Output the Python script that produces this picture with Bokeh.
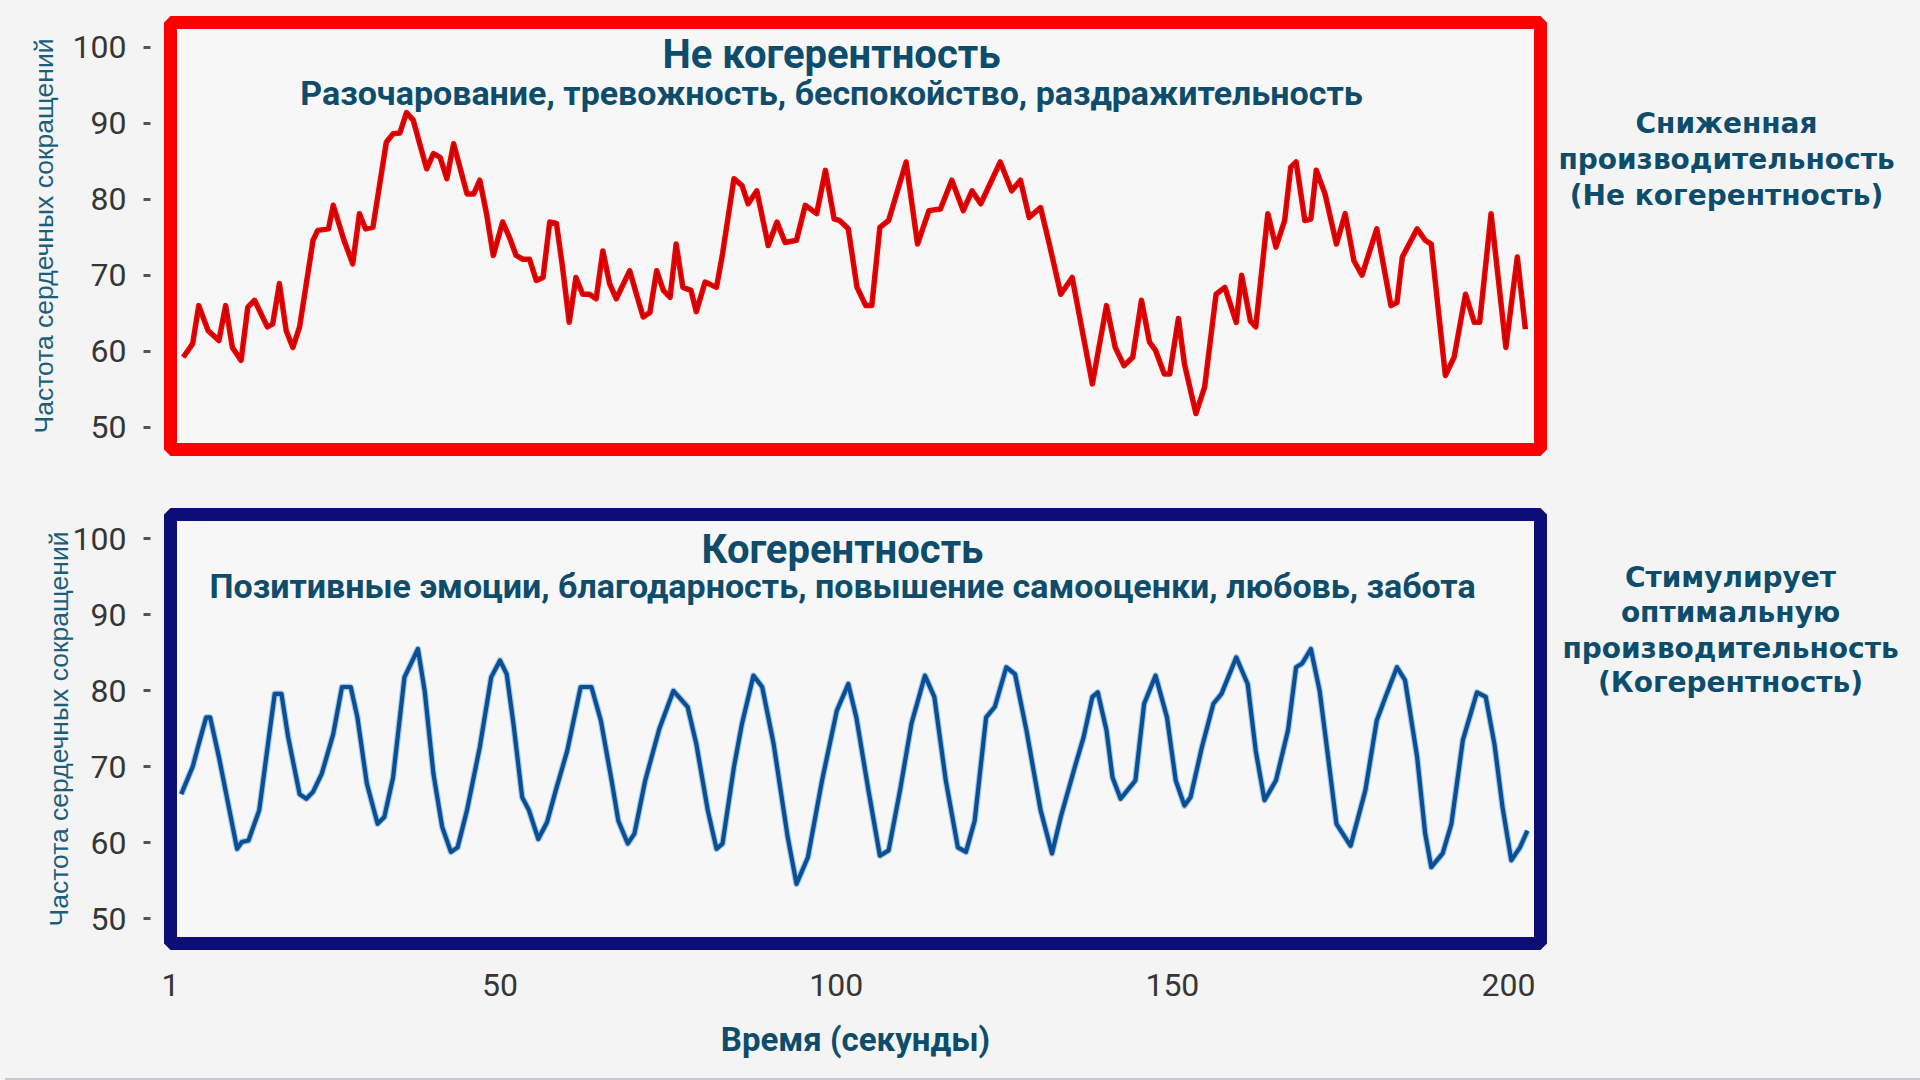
from bokeh.plotting import figure
from bokeh.layouts import column, row
from bokeh.models import Label, FixedTicker, Range1d, Div
from bokeh.embed import file_html
from bokeh.resources import INLINE

# ---------------- data ----------------
time_red = [2.9, 4.3, 5.2, 6.6, 8.2, 9.2, 10.2, 11.5, 12.5, 13.5, 15.4, 16.2, 17.2, 18.2, 19.2, 20.2,
            22.2, 22.9, 24.5, 25.2, 26.8, 28.1, 29.1, 30.0, 31.1, 33.1, 34.1, 35.1, 36.1, 37.1, 38.4,
            39.1, 40.1, 41.1, 42.1, 43.1, 44.1, 45.1, 46.1, 47.0, 48.0, 49.0, 50.4, 51.4, 52.4, 53.4,
            54.4, 55.4, 56.4, 57.4, 58.4, 59.3, 60.3, 61.3, 62.3, 63.3, 64.3, 65.3, 66.3, 67.3, 69.3,
            70.3, 71.3, 72.3, 73.3, 74.3, 75.3, 76.2, 77.2, 78.4, 79.2, 80.5, 82.2, 83.1, 84.8, 86.0,
            86.9, 88.2, 89.9, 91.2, 92.4, 94.1, 95.4, 97.1, 98.4, 99.7, 100.5, 101.8, 103.1, 104.4,
            105.3, 106.5, 107.8, 110.4, 112.1, 113.8, 115.5, 117.2, 118.9, 120.2, 121.5, 124.4, 126.1,
            127.4, 128.7, 130.4, 131.7, 133.4, 135.1, 138.1, 140.2, 141.5, 142.8, 144.1, 145.4, 146.6,
            147.5, 148.8, 149.6, 150.9, 151.8, 153.5, 154.8, 156.5, 157.8, 159.5, 160.3, 161.6, 162.4,
            164.2, 165.4, 166.7, 167.6, 168.4, 169.7, 170.6, 171.4, 172.7, 174.4, 175.7, 177.0, 178.2,
            180.4, 182.5, 183.4, 184.2, 186.4, 187.6, 188.5, 190.6, 191.9, 193.6, 194.9, 195.7, 197.4,
            199.6, 201.3, 202.5]
hr_red = [59.2, 61.0, 66.0, 62.7, 61.4, 66.0, 60.5, 58.8, 65.8, 66.7, 63.2, 63.6, 68.9, 62.7, 60.5, 63.2,
          74.6, 75.9, 76.1, 79.2, 74.6, 71.5, 78.1, 76.1, 76.3, 87.5, 88.6, 88.7, 91.4, 90.4, 86.2,
          84.0, 86.0, 85.5, 82.7, 87.3, 84.0, 80.7, 80.7, 82.5, 78.1, 72.6, 77.0, 75.0, 72.6, 72.1,
          72.1, 69.3, 69.7, 77.0, 76.8, 71.1, 63.8, 69.7, 67.5, 67.5, 66.9, 73.2, 68.9, 66.9, 70.6,
          67.5, 64.5, 65.1, 70.6, 68.0, 67.1, 74.1, 68.4, 68.0, 65.2, 69.1, 68.4, 72.8, 82.7, 81.8,
          79.4, 81.1, 73.9, 77.0, 74.3, 74.6, 79.2, 78.1, 83.8, 77.4, 77.2, 76.1, 68.4, 66.0,
          66.0, 76.3, 77.2, 84.9, 74.1, 78.5, 78.7, 82.5, 78.5, 81.1, 79.4, 84.9, 81.1,
          82.5, 77.6, 78.9, 74.1, 67.5, 69.7, 55.7, 66.0, 60.5, 58.1, 59.2, 66.7, 61.2,
          60.1, 57.0, 57.0, 64.3, 58.3, 51.8, 55.3, 67.5, 68.4, 63.8, 70.0, 64.0, 63.2,
          78.1, 73.7, 77.2, 84.2, 84.9, 77.2, 77.4, 83.8, 80.7, 74.1, 78.1, 71.9, 70.0,
          76.1, 66.0, 66.4, 72.4, 76.1, 74.6, 74.1, 56.8, 59.2, 67.5, 63.8, 63.8, 78.1,
          60.5, 72.4, 62.9]

time_blue = [2.6, 4.3, 5.2, 6.3, 6.9, 8.2, 10.9, 11.6, 12.6, 14.2, 15.5, 16.5, 17.5, 18.5, 20.2, 21.2,
             22.2, 23.5, 25.2, 26.5, 27.8, 28.8, 30.2, 31.8, 32.8, 34.1, 35.8, 37.8, 38.8, 40.1, 41.4,
             42.7, 43.7, 45.1, 47.0, 48.7, 50.0, 51.0, 52.0, 53.3, 54.3, 55.7, 57.0, 58.3, 60.0, 62.0,
             63.6, 65.0, 66.6, 67.6, 69.0, 70.0, 71.6, 73.7, 75.8, 77.9, 79.2, 80.9, 82.2, 83.1, 84.8,
             86.0, 87.7, 89.0, 90.7, 92.8, 94.1, 95.8, 97.9, 100.1, 101.8, 103.0, 104.8, 106.5, 107.8,
             109.5, 111.2, 113.2, 114.6, 116.3, 118.1, 119.3, 120.6, 122.3, 123.6, 125.3, 126.6, 128.3,
             130.4, 132.1, 133.4, 135.5, 136.8, 138.1, 138.9, 140.2, 141.1, 142.3, 144.5, 145.8, 147.5,
             149.2, 150.5, 151.8, 152.7, 154.4, 156.1, 157.3, 159.5, 161.2, 162.4, 163.7, 165.4, 167.2,
             168.4, 169.3, 170.6, 171.9, 173.1, 174.4, 176.5, 178.7, 180.4, 181.7, 183.4, 184.6, 186.4,
             187.6, 188.5, 190.2, 191.5, 193.2, 195.3, 196.6, 197.9, 199.1, 200.4, 201.7, 202.8]
hr_blue = [66.4, 70.0, 73.0, 76.5, 76.5, 71.3, 59.2, 60.1, 60.3, 64.3, 73.0, 79.6, 79.6, 73.9, 66.4, 65.8,
           66.7, 69.1, 74.3, 80.5, 80.5, 76.5, 67.8, 62.5, 63.4, 68.6, 81.8, 85.5, 80.0, 69.1, 62.1,
           58.8, 59.4, 64.3, 72.6, 81.8, 84.0, 82.2, 75.7, 66.0, 64.3, 60.5, 62.7, 66.9, 72.1, 80.5,
           80.5, 76.1, 68.2, 62.9, 59.9, 61.2, 68.2, 75.0, 80.0, 77.9, 73.0, 64.3, 59.2, 59.9, 70.0,
           75.7, 82.0, 80.5, 73.0, 60.7, 54.6, 58.1, 68.2, 77.4, 80.9, 76.5, 66.9, 58.3, 59.0,
           66.9, 75.7, 82.0, 79.2, 68.2, 59.4, 58.8, 62.9, 76.5, 77.9, 83.1, 82.2, 74.8,
           64.3, 58.6, 63.4, 70.0, 73.9, 79.2, 79.8, 74.8, 68.6, 65.8, 68.2, 78.3, 82.0,
           76.5, 68.2, 64.9, 66.0, 72.6, 78.3, 79.6, 84.4, 80.9, 72.1, 65.6, 68.2, 74.8,
           83.1, 83.6, 85.5, 80.0, 71.7, 62.5, 59.6, 66.9, 76.1, 79.2, 83.1, 81.4, 71.3,
           61.2, 56.8, 58.6, 62.5, 73.5, 79.8, 79.2, 73.0, 64.7, 57.7, 59.4, 61.6]

x_ticks = [1, 50, 100, 150, 200]
y_ticks = [50, 60, 70, 80, 90, 100]

y_axis_title = "Частота сердечных сокращений"
x_axis_title = "Время (секунды)"
top_title = "Не когерентность"
top_subtitle = "Разочарование, тревожность, беспокойство, раздражительность"
bottom_title = "Когерентность"
bottom_subtitle = "Позитивные эмоции, благодарность, повышение самооценки, любовь, забота"
top_side = ["Сниженная", "производительность", "(Не когерентность)"]
bottom_side = ["Стимулирует", "оптимальную", "производительность", "(Когерентность)"]

# ---------------- styling ----------------
BG = "#f4f4f4"
PLOT_BG = "#f7f7f7"
TEAL = "#0d4d6b"
TICK_GREY = "#363636"
LEFT = 170
FRAME_W = 1370
RIGHT = 10
W_MAIN = LEFT + FRAME_W + RIGHT
W_SIDE = 1920 - W_MAIN
H1 = 479
H2 = 594


def make_fig(height, top, bottom, y0, y1, frame_color, x_axis):
    p = figure(width=W_MAIN, height=height, output_backend="svg", toolbar_location=None,
               x_range=Range1d(1.0, 1.0 + FRAME_W / 6.724), y_range=Range1d(y0, y1),
               x_axis_location="below" if x_axis else None,
               min_border_left=LEFT, min_border_right=RIGHT,
               min_border_top=top, min_border_bottom=bottom)
    p.background_fill_color = PLOT_BG
    p.border_fill_color = BG
    p.outline_line_color = frame_color
    p.outline_line_width = 13
    p.outline_line_alpha = 1.0
    p.grid.visible = False
    ya = p.yaxis[0]
    ya.ticker = FixedTicker(ticks=y_ticks)
    ya.axis_line_color = None
    ya.minor_tick_line_color = None
    ya.major_tick_in = -20
    ya.major_tick_out = 27
    ya.major_tick_line_color = "#555555"
    ya.major_tick_line_width = 3
    ya.major_label_standoff = 17
    ya.major_label_text_font = "Roboto"
    ya.major_label_text_font_size = "32px"
    ya.major_label_text_color = TICK_GREY
    ya.axis_label = y_axis_title
    ya.axis_label_text_font = "Liberation Sans"
    ya.axis_label_text_font_style = "normal"
    ya.axis_label_text_font_size = "26.5px"
    ya.axis_label_text_color = "#1b5f7c"
    if x_axis:
        xa = p.xaxis[0]
        xa.ticker = FixedTicker(ticks=x_ticks)
        xa.axis_line_color = None
        xa.minor_tick_line_color = None
        xa.major_tick_line_color = None
        xa.major_tick_in = 0
        xa.major_tick_out = 0
        xa.major_label_standoff = 30
        xa.major_label_text_font = "Roboto"
        xa.major_label_text_font_size = "32px"
        xa.major_label_text_color = TICK_GREY
        xa.axis_label = x_axis_title
        xa.axis_label_standoff = 21
        xa.axis_label_text_font = "Roboto"
        xa.axis_label_text_font_style = "bold"
        xa.axis_label_text_font_size = "33px"
        xa.axis_label_text_color = TEAL
    return p


def side_fig(height):
    q = figure(width=W_SIDE, height=height, output_backend="svg", toolbar_location=None,
               x_range=Range1d(0, 1), y_range=Range1d(0, 1),
               x_axis_location=None, y_axis_location=None,
               min_border_left=0, min_border_right=0, min_border_top=0, min_border_bottom=0)
    q.background_fill_color = BG
    q.border_fill_color = BG
    q.outline_line_color = None
    q.grid.visible = False
    return q


def add_label(p, text, sx, sy, font, size, style="bold"):
    p.add_layout(Label(x=sx, y=sy, x_units="screen", y_units="screen", text=text,
                       text_align="center", text_baseline="middle",
                       text_font=font, text_font_size=size, text_font_style=style,
                       text_color=TEAL))


# top panel: frame page-top 22, bottom 449
p1 = make_fig(H1, 22, 30, 47.07, 103.25, "#ff0000", False)
p1.yaxis[0].axis_label_standoff = 11
p1.line(time_red, hr_red, line_color="#f00000", line_width=5.5, line_join="round")
p1.line(time_red, hr_red, line_color="#8a0000", line_width=1.3, line_alpha=0.6, line_join="round")
add_label(p1, top_title, 661, 395, "Roboto", "40px")
add_label(p1, top_subtitle, 661, 357, "Roboto", "34px")

# bottom panel: frame page-top 514, bottom 943
p2 = make_fig(H2, 35, 130, 46.75, 103.2, "#0d0d78", True)
p2.yaxis[0].axis_label_standoff = -4
p2.line(time_blue, hr_blue, line_color="#3d8fd6", line_width=6.5, line_alpha=0.45, line_join="round")
p2.line(time_blue, hr_blue, line_color="#0a4f94", line_width=4.2, line_join="round")
add_label(p2, bottom_title, 672, 394, "Roboto", "40px")
add_label(p2, bottom_subtitle, 672, 358, "Roboto", "34px")

# right-hand captions
q1 = side_fig(H1)
for t, yy in zip(top_side, [123, 159, 195]):
    add_label(q1, t, 1726 - W_MAIN, H1 - yy, "DejaVu Sans", "28px")
q2 = side_fig(H2)
for t, yy in zip(bottom_side, [577, 612, 648, 682]):
    add_label(q2, t, 1730 - W_MAIN, H1 + H2 - yy, "DejaVu Sans", "28px")

strip = Div(text="", width=1920, height=6, styles={"background-color": "#c6c9cd"})

bgstyle = {"background-color": BG}
left_col = column(p1, p2, spacing=0, styles=bgstyle)
right_col = column(q1, q2, spacing=0, styles=bgstyle)
layout = column(row(left_col, right_col, spacing=0, styles=bgstyle), strip, spacing=0,
                styles=bgstyle)
open("out.html", "w").write(file_html(layout, INLINE))
